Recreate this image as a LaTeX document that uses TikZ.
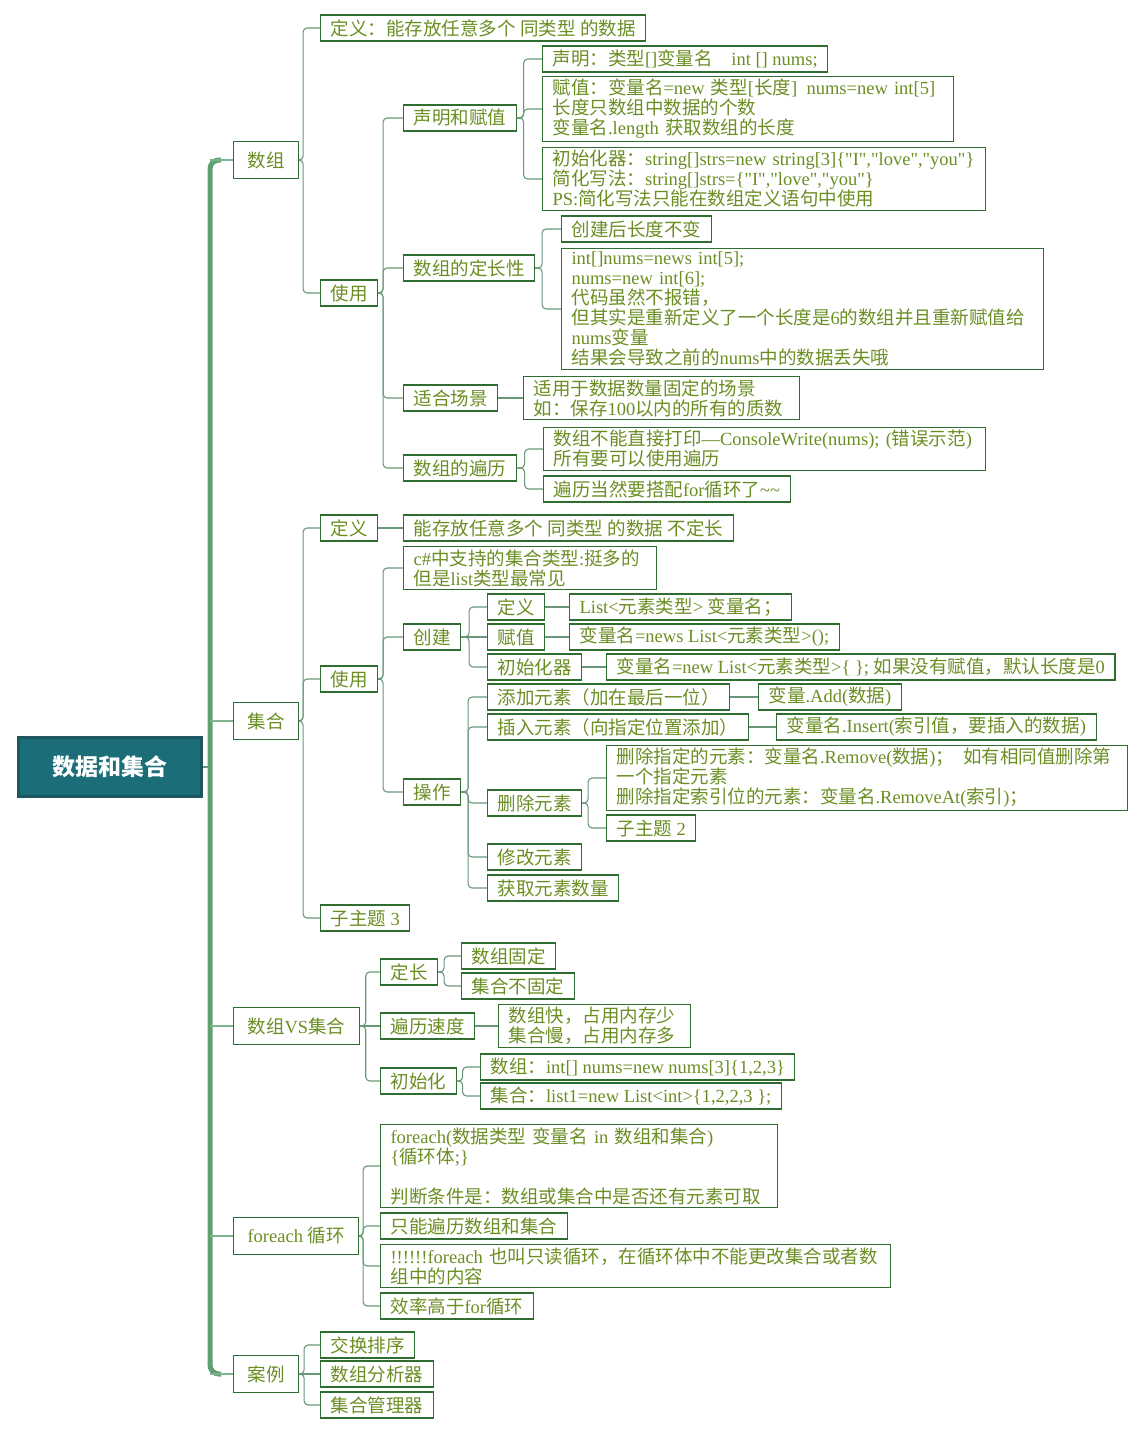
\documentclass[tikz,border=0pt]{standalone}
\usepackage{fontspec}
\setmainfont{Liberation Serif}[Ligatures=TeXOff]
\newfontfamily\cjk{Noto Sans CJK SC}
\usetikzlibrary{positioning}
\definecolor{rootfill}{HTML}{1B6E78}
\definecolor{rootedge}{HTML}{1D5560}
\definecolor{boxgreen}{HTML}{2F6E30}
\definecolor{txtgreen}{HTML}{6B8E23}
\definecolor{linkgreen}{HTML}{6A967A}
\definecolor{trunkgreen}{HTML}{5FA070}
% Chinese runs in Noto Sans CJK, Latin runs in Liberation Serif
\newcount\cjkidx
\ifdefined\newXeTeXintercharclass \newXeTeXintercharclass\cjkcls \else \chardef\cjkcls=7 \fi
\newcommand{\setcls}[3]{\cjkidx=#1 \loop\XeTeXcharclass\cjkidx=#3 \advance\cjkidx by 1 \ifnum\cjkidx<#2 \repeat}
\setcls{"21}{"7F}{0}
\setcls{"2000}{"2070}{0}
\setcls{"3000}{"3040}{\cjkcls}
\setcls{"4E00}{"A000}{\cjkcls}
\setcls{"FF00}{"FFF0}{\cjkcls}
\XeTeXinterchartokenstate=1
\XeTeXinterchartoks 0 \cjkcls = {\cjk}
\XeTeXinterchartoks 4095 \cjkcls = {\cjk}
\XeTeXinterchartoks \cjkcls 0 = {\rmfamily}
\XeTeXinterchartoks \cjkcls 4095 = {\rmfamily}
\tikzset{
  root/.style={draw=rootedge,line width=2.5pt,fill=rootfill,text=white,anchor=west,
    minimum width=183,minimum height=59,font=\fontsize{23}{25}\selectfont\bfseries},
  topic/.style={draw=boxgreen,line width=1.1pt,text=txtgreen,anchor=west,inner xsep=14pt,
    minimum height=37,font=\fontsize{18.5}{20}\selectfont},
  leaf/.style={draw=boxgreen,line width=1.1pt,text=txtgreen,anchor=west,inner xsep=10pt,
    inner ysep=3pt,minimum height=26,align=left,font=\fontsize{18.5}{20}\selectfont},
  ln/.style={draw=linkgreen,line width=1.1pt,rounded corners=4pt},
  trunk/.style={draw=trunkgreen,line width=5pt,rounded corners=9pt},
  twig/.style={draw=trunkgreen!80,line width=2pt}
}
\begin{document}
\begin{tikzpicture}[x=1pt,y=-1pt]
\useasboundingbox (0,0) rectangle (1144,1435);
\node[root] (root) at (17,767) {数据和集合};
\coordinate (tk) at (210,767);
% first level
\node[topic] (arr) at (233,160) {数组};
\node[topic] (lst) at (233,721) {集合};
\node[topic] (cmp) at (233,1026) {数组VS集合};
\node[topic] (fe) at (233,1236) {foreach 循环};
\node[topic] (case) at (233,1374) {案例};
% 数组
\node[leaf] (arrdef) at (320,28) {定义：能存放任意多个 同类型 的数据};
\node[leaf] (arruse) at (320,293) {使用};
\node[leaf] (arrdecl) at (403,118) {声明和赋值};
\node[leaf] (declstmt) at (542,59) {声明：类型[]变量名\quad int [] nums;};
\node[leaf,text width=391] (assignstmt) at (542,109) {\mbox{赋值：变量名=new 类型[长度]\enskip nums=new int[5]}\\长度只数组中数据的个数\\变量名.length 获取数组的长度};
\node[leaf,text width=423] (initstmt) at (542,179) {\mbox{初始化器：string[]strs=new string[3]\{"I","love","you"\}}\\简化写法：string[]strs=\{"I","love","you"\}\\PS:简化写法只能在数组定义语句中使用};
\node[leaf] (fixlen) at (403,268) {数组的定长性};
\node[leaf] (fix1) at (561,229) {创建后长度不变};
\node[leaf,text width=462] (fix2) at (561,309) {int[]nums=news int[5];\\nums=new int[6];\\代码虽然不报错，\\但其实是重新定义了一个长度是6的数组并且重新赋值给\\nums变量\\结果会导致之前的nums中的数据丢失哦};
\node[leaf] (scene) at (403,398) {适合场景};
\node[leaf,text width=256] (scene1) at (523,398) {适用于数据数量固定的场景\\如：保存100以内的所有的质数};
\node[leaf] (trav) at (403,468) {数组的遍历};
\node[leaf,text width=422] (trav1) at (543,449) {\mbox{数组不能直接打印—ConsoleWrite(nums); (错误示范)}\\所有要可以使用遍历};
\node[leaf] (trav2) at (543,489) {遍历当然要搭配for循环了\textasciitilde\textasciitilde};
% 集合
\node[leaf] (lstdef) at (320,528) {定义};
\node[leaf] (lstdef1) at (403,528) {能存放任意多个 同类型 的数据 不定长};
\node[leaf] (lstuse) at (320,679) {使用};
\node[leaf,text width=233] (lsttype) at (403,568) {c\#中支持的集合类型:挺多的\\但是list类型最常见};
\node[leaf] (create) at (403,637) {创建};
\node[leaf] (cdef) at (487,607) {定义};
\node[leaf] (cdef1) at (569,607) {List<元素类型> 变量名；};
\node[leaf] (cset) at (487,637) {赋值};
\node[leaf] (cset1) at (569,637) {变量名=news List<元素类型>();};
\node[leaf] (cinit) at (487,667) {初始化器};
\node[leaf] (cinit1) at (606,667) {变量名=new List<元素类型>\{ \}; 如果没有赋值，默认长度是0};
\node[leaf] (ops) at (403,792) {操作};
\node[leaf] (opadd) at (487,697) {添加元素（加在最后一位）};
\node[leaf] (opadd1) at (758,697) {变量.Add(数据)};
\node[leaf] (opins) at (487,727) {插入元素（向指定位置添加）};
\node[leaf] (opins1) at (776,727) {变量名.Insert(索引值，要插入的数据)};
\node[leaf] (opdel) at (487,803) {删除元素};
\node[leaf,text width=501] (opdel1) at (606,778) {\mbox{删除指定的元素：变量名.Remove(数据)；\enskip 如有相同值删除第}\\一个指定元素\\删除指定索引位的元素：变量名.RemoveAt(索引)；};
\node[leaf] (opdel2) at (606,828) {子主题 2};
\node[leaf] (opmod) at (487,857) {修改元素};
\node[leaf] (opcnt) at (487,888) {获取元素数量};
\node[leaf] (lstsub) at (320,918) {子主题 3};
% 数组VS集合
\node[leaf] (cmplen) at (380,972) {定长};
\node[leaf] (len1) at (461,956) {数组固定};
\node[leaf] (len2) at (461,986) {集合不固定};
\node[leaf] (cmpspeed) at (380,1026) {遍历速度};
\node[leaf,text width=172] (speed1) at (498,1026) {数组快，占用内存少\\集合慢，占用内存多};
\node[leaf] (cmpinit) at (380,1081) {初始化};
\node[leaf] (init1) at (480,1067) {数组：int[] nums=new nums[3]\{1,2,3\}};
\node[leaf] (init2) at (480,1096) {集合：list1=new List<int>\{1,2,2,3 \};};
% foreach
\node[leaf,text width=377] (fe1) at (380,1166) {foreach(数据类型 变量名 in 数组和集合)\\\{循环体;\}\\[20pt]判断条件是：数组或集合中是否还有元素可取};
\node[leaf] (fe2) at (380,1226) {只能遍历数组和集合};
\node[leaf,text width=490] (fe3) at (380,1266) {\mbox{!!!!!!foreach 也叫只读循环，在循环体中不能更改集合或者数}\\组中的内容};
\node[leaf] (fe4) at (380,1306) {效率高于for循环};
% 案例
\node[leaf] (case1) at (320,1345) {交换排序};
\node[leaf] (case2) at (320,1374) {数组分析器};
\node[leaf] (case3) at (320,1405) {集合管理器};
% trunk
\draw[ln] (root.east) -- (tk);
\draw[trunk] ([xshift=-12]arr.west) -- (tk |- arr.west) -- (tk |- case.west) -- ([xshift=-12]case.west);
\foreach \t in {arr,lst,cmp,fe,case} \draw[twig] (tk |- \t.west) -- (\t.west);
% connectors
\foreach \c in {arrdef,arruse} \draw[ln] (arr.east) -- ++(4,0) |- (\c.west);
\foreach \c in {arrdecl,fixlen,scene,trav} \draw[ln] (arruse.east) -- ++(5,0) |- (\c.west);
\foreach \c in {declstmt,assignstmt,initstmt} \draw[ln] (arrdecl.east) -- ++(7,0) |- (\c.west);
\foreach \c in {fix1,fix2} \draw[ln] (fixlen.east) -- ++(7,0) |- (\c.west);
\draw[ln] (scene.east) -- (scene1.west);
\foreach \c in {trav1,trav2} \draw[ln] (trav.east) -- ++(8,0) |- (\c.west);
\foreach \c in {lstdef,lstuse,lstsub} \draw[ln] (lst.east) -- ++(4,0) |- (\c.west);
\draw[ln] (lstdef.east) -- (lstdef1.west);
\foreach \c in {lsttype,create,ops} \draw[ln] (lstuse.east) -- ++(5,0) |- (\c.west);
\foreach \c in {cdef,cinit} \draw[ln] (create.east) -- ++(8,0) |- (\c.west);
\draw[ln] (create.east) -- (cset.west);
\draw[ln] (cdef.east) -- (cdef1.west);
\draw[ln] (cset.east) -- (cset1.west);
\draw[ln] (cinit.east) -- (cinit1.west);
\foreach \c in {opadd,opins,opdel,opmod,opcnt} \draw[ln] (ops.east) -- ++(7,0) |- (\c.west);
\draw[ln] (opadd.east) -- (opadd1.west);
\draw[ln] (opins.east) -- (opins1.west);
\foreach \c in {opdel1,opdel2} \draw[ln] (opdel.east) -- ++(6,0) |- (\c.west);
\foreach \c in {cmplen,cmpinit} \draw[ln] (cmp.east) -- ++(6,0) |- (\c.west);
\draw[ln] (cmp.east) -- (cmpspeed.west);
\foreach \c in {len1,len2} \draw[ln] (cmplen.east) -- ++(6,0) |- (\c.west);
\draw[ln] (cmpspeed.east) -- (speed1.west);
\foreach \c in {init1,init2} \draw[ln] (cmpinit.east) -- ++(6,0) |- (\c.west);
\foreach \c in {fe1,fe2,fe3,fe4} \draw[ln] (fe.east) -- ++(4,0) |- (\c.west);
\foreach \c in {case1,case3} \draw[ln] (case.east) -- ++(5,0) |- (\c.west);
\draw[ln] (case.east) -- (case2.west);
\end{tikzpicture}
\end{document}
